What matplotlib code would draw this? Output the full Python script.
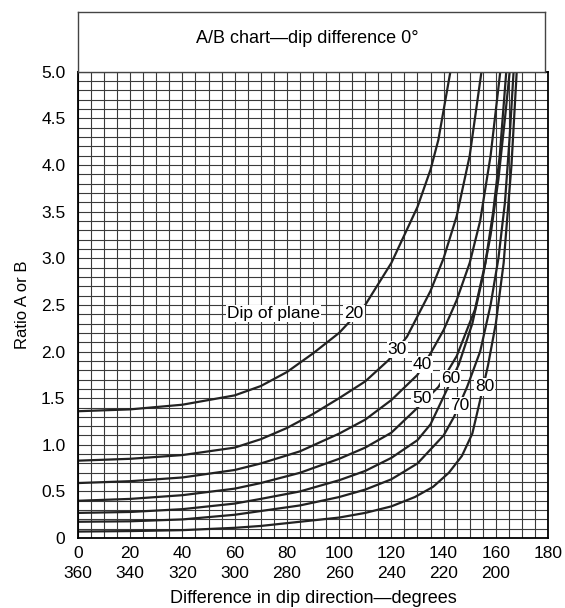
import numpy as np
import matplotlib.pyplot as plt

plt.rcParams['font.family'] = ['Liberation Sans', 'DejaVu Sans']

# curves: difference in dip direction (deg) -> ratio A or B
dips = [20, 30, 40, 50, 60, 70, 80]
x20 = [0, 20, 40, 60, 70, 80, 90, 100, 110, 120, 130, 135, 138, 142.6]
y20 = [1.36, 1.38, 1.43, 1.53, 1.63, 1.78, 1.98, 2.2, 2.5, 2.95, 3.55, 3.95, 4.27, 5.0]
x30 = [0, 20, 40, 60, 70, 80, 90, 100, 110, 119, 126, 135, 140, 145, 150, 154.5]
y30 = [0.83, 0.85, 0.89, 0.97, 1.06, 1.18, 1.33, 1.5, 1.68, 1.91, 2.16, 2.65, 3.0, 3.45, 4.1, 5.0]
x40 = [0, 20, 40, 60, 70, 85, 100, 110, 120, 130, 135, 140, 145, 150, 154, 158, 161.7]
y40 = [0.59, 0.61, 0.65, 0.73, 0.8, 0.93, 1.12, 1.27, 1.48, 1.75, 1.98, 2.23, 2.55, 2.95, 3.4, 4.1, 5.0]
x50 = [0, 20, 40, 60, 70, 85, 100, 110, 120, 129, 138, 145, 152, 156, 159, 161.5, 164]
y50 = [0.4, 0.42, 0.46, 0.53, 0.59, 0.7, 0.85, 0.97, 1.13, 1.37, 1.62, 1.95, 2.45, 2.95, 3.5, 4.1, 5.0]
x60 = [0, 20, 40, 60, 70, 85, 100, 110, 120, 130, 135, 139.4, 145.8, 151, 155, 158, 161, 163.5, 165.3]
y60 = [0.27, 0.28, 0.31, 0.37, 0.42, 0.5, 0.62, 0.72, 0.86, 1.05, 1.22, 1.48, 1.86, 2.3, 2.8, 3.25, 3.85, 4.5, 5.0]
x70 = [0, 20, 40, 60, 70, 85, 100, 110, 120, 130, 140, 144, 149, 154, 158, 161, 163.5, 165.3, 166.8]
y70 = [0.175, 0.18, 0.2, 0.25, 0.29, 0.35, 0.44, 0.52, 0.63, 0.8, 1.1, 1.3, 1.62, 2.0, 2.5, 3.0, 3.6, 4.3, 5.0]
x80 = [0, 20, 40, 60, 70, 85, 100, 110, 120, 129, 136, 142, 147, 151, 154, 157, 160, 163, 166, 168]
y80 = [0.07, 0.075, 0.085, 0.11, 0.13, 0.175, 0.22, 0.27, 0.34, 0.44, 0.55, 0.7, 0.88, 1.12, 1.48, 1.85, 2.3, 2.95, 4.0, 5.0]
curves_x = [x20, x30, x40, x50, x60, x70, x80]
curves_y = [y20, y30, y40, y50, y60, y70, y80]

# label positions for curve numbers
lab_x = [105.7, 122.3, 131.8, 131.8, 142.6, 146, 155.7]
lab_y = [2.41, 2.02, 1.86, 1.50, 1.71, 1.42, 1.62]

xticks = np.arange(0, 181, 20)
xlabels = ['0\n360', '20\n340', '40\n320', '60\n300', '80\n280', '100\n260',
           '120\n240', '140\n220', '160\n200', '180\n']
yticks = np.arange(0, 5.01, 0.5)
ylabels = ['0'] + ['%.1f' % v for v in yticks[1:]]

fig = plt.figure(figsize=(5.65, 6.08), dpi=100)
ax = fig.add_axes([0.138, 0.115, 0.832, 0.767])

for v in np.arange(0, 180.1, 5):
    ax.axvline(v, color='#3a3a3a', lw=0.8, zorder=1)
for v in np.arange(0, 5.01, 0.1):
    ax.axhline(v, color='#3a3a3a', lw=0.8, zorder=1)

for cx, cy in zip(curves_x, curves_y):
    ax.plot(cx, cy, color='#222222', lw=1.6, zorder=2, solid_joinstyle='round')

box = dict(facecolor='white', edgecolor='none', pad=0.8)
for d, lx, ly in zip(dips, lab_x, lab_y):
    ax.text(lx, ly, str(d), fontsize=12.5, ha='center', va='center', bbox=box, zorder=3)
ax.text(57, 2.41, 'Dip of plane', fontsize=12.5, ha='left', va='center', bbox=box, zorder=3)

ax.set_xlim(0, 180)
ax.set_ylim(0, 5)
ax.set_xticks(xticks)
ax.set_xticklabels(xlabels, fontsize=12.5, linespacing=1.4)
ax.set_yticks(yticks)
ax.set_yticklabels(ylabels, fontsize=12.5)
ax.tick_params(length=0, pad=6)
ax.tick_params(axis='y', pad=9)
ax.set_xlabel('Difference in dip direction\u2014degrees', fontsize=13, labelpad=6)
ax.set_ylabel('Ratio A or B', fontsize=12, labelpad=8)
for s in ax.spines.values():
    s.set_linewidth(1.3)

# title box above the plot
tax = fig.add_axes([0.138, 0.882, 0.827, 0.099])
tax.set_xticks([])
tax.set_yticks([])
for s in tax.spines.values():
    s.set_linewidth(1.0)
    s.set_color('#444444')
tax.text(0.49, 0.55, 'A/B chart\u2014dip difference 0\u00b0', fontsize=13,
         ha='center', va='center', transform=tax.transAxes)

fig.savefig('out.png', dpi=100)
